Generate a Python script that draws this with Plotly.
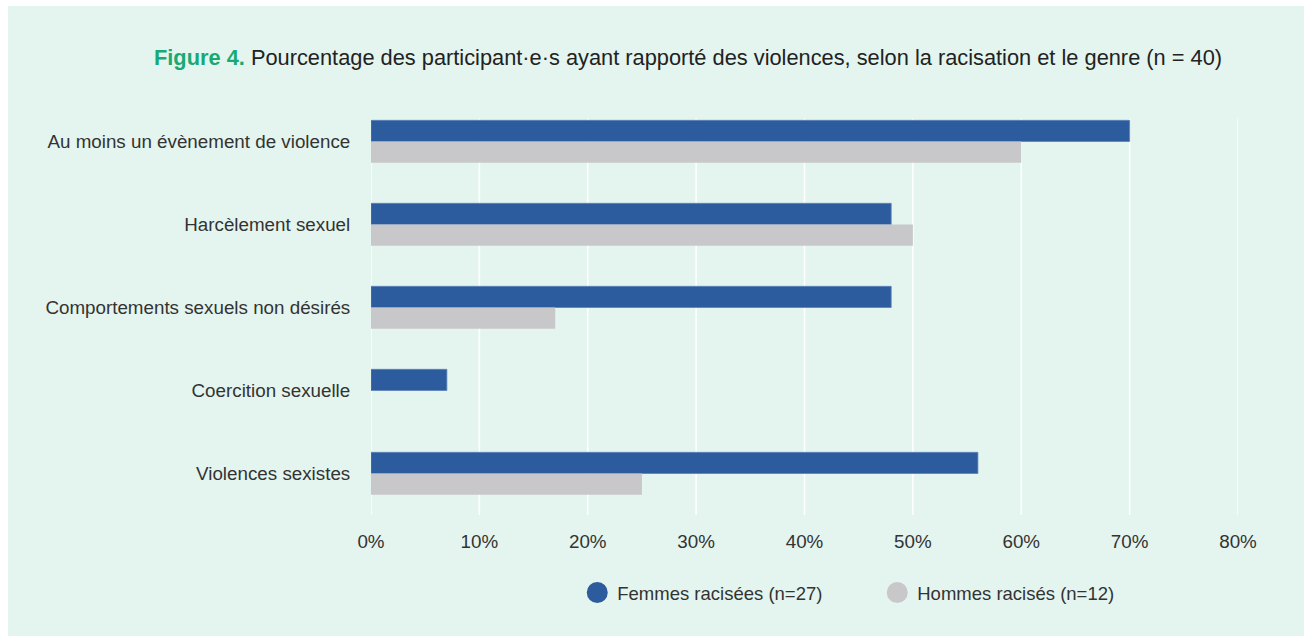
import plotly.graph_objects as go

categories = [
    "Au moins un évènement de violence",
    "Harcèlement sexuel",
    "Comportements sexuels non désirés",
    "Coercition sexuelle",
    "Violences sexistes",
]
femmes = [0.70, 0.48, 0.48, 0.07, 0.56]
hommes = [0.60, 0.50, 0.17, 0.0, 0.25]
series_names = ["Femmes racisées (n=27)", "Hommes racisés (n=12)"]
tick_vals = [0, 0.1, 0.2, 0.3, 0.4, 0.5, 0.6, 0.7, 0.8]
tick_text = ["0%", "10%", "20%", "30%", "40%", "50%", "60%", "70%", "80%"]

BLUE = "#2d5c9e"
GREY = "#c8c8ca"
MINT = "#e4f5ef"
TEXT = "#333333"
FONT = "Liberation Sans, Arial, sans-serif"

W, H = 1304, 636
L, R, T, B = 362.5, 73.5, 93.5, 127
pw, ph = W - L - R, H - T - B

fig = go.Figure()
fig.add_trace(go.Bar(y=categories, x=femmes, orientation="h", name=series_names[0],
                     marker=dict(color=BLUE, line=dict(color="#5d82b8", width=0.8)),
                     showlegend=False, hoverinfo="x+y"))
fig.add_trace(go.Bar(y=categories, x=hommes, orientation="h", name=series_names[1],
                     marker=dict(color=GREY, line=dict(width=0)),
                     showlegend=False, hoverinfo="x+y"))
# legend entries (round symbols)
for name, col in zip(series_names, [BLUE, GREY]):
    fig.add_trace(go.Scatter(x=[None], y=[None], mode="markers", name=name,
                             marker=dict(symbol="circle", size=16, color=col,
                                         line=dict(color=col, width=5))))

shapes = []
for v in tick_vals:
    shapes.append(dict(type="line", xref="x", yref="y domain", layer="below",
                       x0=v, x1=v, y0=0, y1=(ph - 18.5) / ph,
                       line=dict(color="white", width=1.5)))

fig.update_layout(
    width=W, height=H,
    margin=dict(l=L, r=R, t=T, b=B, pad=0),
    paper_bgcolor=MINT, plot_bgcolor="rgba(0,0,0,0)",
    font=dict(family=FONT, color=TEXT, size=18.8),
    barmode="group", bargap=0.49, bargroupgap=0,
    shapes=shapes,
    title=dict(
        text="<b><span style='color:#19a974'>Figure 4.</span></b> Pourcentage des participant·e·s ayant rapporté des violences, selon la racisation et le genre (n = 40)",
        x=146 / W, xanchor="left", xref="container",
        y=1 - 51 / H, yanchor="middle", yref="container",
        font=dict(size=21.8, color="#222222", family=FONT)),
    xaxis=dict(range=[0, 0.8], tickvals=tick_vals, ticktext=tick_text,
               showgrid=False, zeroline=False, showline=False,
               ticks="outside", ticklen=9, tickcolor="rgba(0,0,0,0)",
               tickfont=dict(size=18.8, color=TEXT), fixedrange=True),
    yaxis=dict(autorange="reversed", showgrid=False, zeroline=False, showline=False,
               ticks="outside", ticklen=16, tickcolor="rgba(0,0,0,0)",
               tickfont=dict(size=18.8, color=TEXT), fixedrange=True),
    legend=dict(orientation="h", x=(569 - L) / pw, xanchor="left",
                y=-(568 - (H - B)) / ph, yanchor="top",
                bgcolor="rgba(0,0,0,0)", traceorder="normal",
                entrywidth=255, entrywidthmode="pixels",
                font=dict(size=18.5, color=TEXT)),
)

page_style = (
    "document.body.style.margin='6px 0 0 8px';"
    "document.documentElement.style.background="
    "'linear-gradient(to right, #ffffff 0px, #ffffff 8px, transparent 8px),"
    " linear-gradient(to bottom, #ffffff 0px, #ffffff 6px, " + MINT + " 6px)';"
)

fig.write_html("out.html", post_script=page_style)
